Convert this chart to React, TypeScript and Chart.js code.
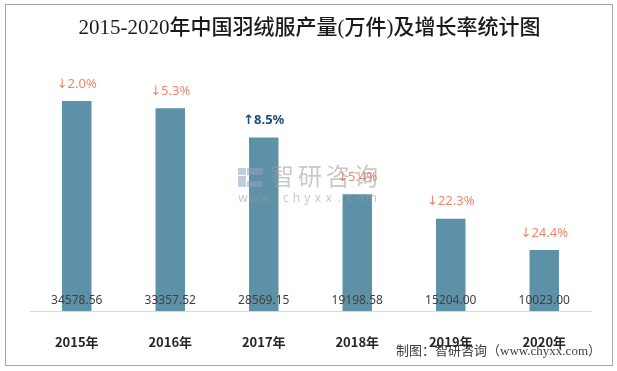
import React, { useEffect, useRef } from "react";
import { Chart, registerables } from "chart.js";

Chart.register(...registerables);

const categories = ["2015年", "2016年", "2017年", "2018年", "2019年", "2020年"];
const production = [34578.56, 33357.52, 28569.15, 19198.58, 15204.0, 10023.0];
const growth = [-2.0, -5.3, 8.5, -5.4, -22.3, -24.4];
const titleText = "2015-2020年中国羽绒服产量(万件)及增长率统计图";
const sourceText = "制图：智研咨询（www.chyxx.com）";
const watermarkName = "智研咨询";
const watermarkUrl = "www.chyxx.com";

const decorPlugin = {
  id: "decor",
  beforeDraw(chart: any) {
    const ctx = chart.ctx;
    ctx.save();
    ctx.fillStyle = "#ffffff";
    ctx.fillRect(0, 0, chart.width, chart.height);
    ctx.strokeStyle = "#A6A6A6";
    ctx.lineWidth = 1;
    ctx.strokeRect(5.5, 4.5, 607, 361);
    ctx.fillStyle = "#1a1a1a";
    ctx.textAlign = "center";
    ctx.textBaseline = "middle";
    ctx.font = '500 21px "Liberation Serif", "Noto Sans CJK SC", serif';
    ctx.fillText(titleText, 309.5, 28);
    ctx.fillStyle = "#404040";
    ctx.textAlign = "right";
    ctx.font = '13px "Liberation Serif", "Noto Sans CJK SC", serif';
    ctx.fillText(sourceText, 601, 352);
    ctx.restore();
  },
  afterDatasetsDraw(chart: any) {
    const ctx = chart.ctx;
    const meta = chart.getDatasetMeta(0);
    ctx.save();
    ctx.textAlign = "center";
    ctx.textBaseline = "middle";
    meta.data.forEach((bar: any, i: number) => {
      ctx.fillStyle = "#404040";
      ctx.font = '12px "Noto Sans", sans-serif';
      ctx.fillText(production[i].toFixed(2), bar.x, 301);
      const g = growth[i];
      const up = g > 0;
      ctx.fillStyle = up ? "#1F4E79" : "#F0866A";
      ctx.font = (up ? "bold " : "") + '13px "Noto Sans", "DejaVu Sans", sans-serif';
      ctx.fillText((up ? "↑" : "↓") + Math.abs(g).toFixed(1) + "%", bar.x, bar.y - 17);
    });
    // watermark
    ctx.globalAlpha = 0.55;
    ctx.fillStyle = "#8FA3BF";
    ctx.fillRect(238, 168, 8, 7);
    ctx.fillRect(247, 168, 16, 7);
    ctx.fillRect(238, 176, 8, 11);
    ctx.fillRect(247, 181, 16, 6);
    ctx.fillStyle = "#9a9a9a";
    ctx.font = '24px "Noto Sans CJK SC", sans-serif';
    for (let k = 0; k < watermarkName.length; k++) {
      ctx.fillText(watermarkName[k], 282 + k * 28, 176);
    }
    ctx.font = '12px "Noto Sans", sans-serif';
    for (let k = 0; k < watermarkUrl.length; k++) {
      ctx.fillText(watermarkUrl[k], 243 + k * 10.7, 199);
    }
    ctx.restore();
  },
};

export default function App() {
  const ref = useRef<HTMLCanvasElement>(null);
  useEffect(() => {
    if (!ref.current) return;
    const chart = new Chart(ref.current, {
      type: "bar",
      data: {
        labels: categories,
        datasets: [
          {
            data: production,
            backgroundColor: "#5E91A7",
            borderWidth: 0,
            barPercentage: 0.315,
            categoryPercentage: 1,
          },
        ],
      },
      options: {
        responsive: false,
        animation: false,
        layout: { padding: { left: 30, right: 26, top: 68, bottom: 0 } },
        plugins: {
          legend: { display: false },
          tooltip: { enabled: false },
          title: { display: false },
        },
        scales: {
          y: { display: false, min: 0, max: 40000 },
          x: {
            grid: { display: false, drawTicks: false },
            border: { display: true, color: "#D9D9D9", width: 1 },
            ticks: {
              color: "#262626",
              padding: 23,
              font: { family: '"Noto Sans CJK SC", sans-serif', size: 13, weight: "bold" },
            },
            afterFit: (scale: any) => {
              scale.height = 60;
            },
          },
        },
      },
      plugins: [decorPlugin],
    });
    return () => chart.destroy();
  }, []);
  return (
    <div style={{ position: "absolute", left: 0, top: 0, width: 617, height: 371, background: "#fff" }}>
      <canvas ref={ref} width={617} height={371} style={{ display: "block", width: 617, height: 371 }} />
    </div>
  );
}
